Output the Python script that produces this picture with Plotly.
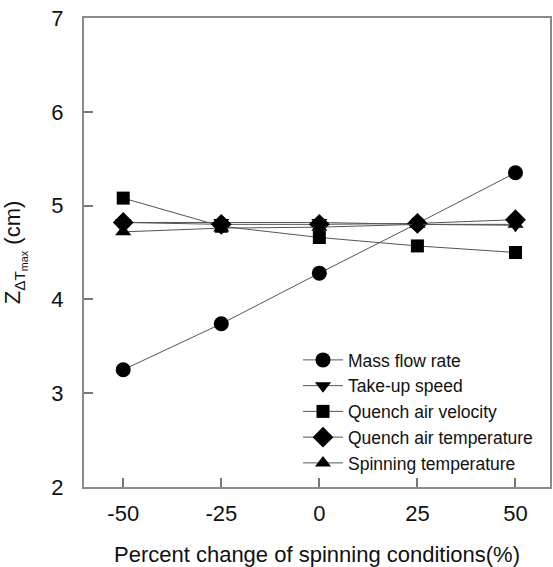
import plotly.graph_objects as go

x_vals = [-50, -25, 0, 25, 50]
mass_flow = [3.25, 3.74, 4.28, 4.81, 5.35]
take_up = [4.82, 4.82, 4.82, 4.80, 4.79]
quench_vel = [5.08, 4.78, 4.66, 4.57, 4.50]
quench_temp = [4.82, 4.80, 4.80, 4.81, 4.85]
spin_temp = [4.72, 4.76, 4.77, 4.80, 4.80]

series = [
    ("Mass flow rate", mass_flow, "circle", 15),
    ("Take-up speed", take_up, "triangle-down", 14),
    ("Quench air velocity", quench_vel, "square", 13),
    ("Quench air temperature", quench_temp, "diamond", 16),
    ("Spinning temperature", spin_temp, "triangle-up", 14),
]

FONT = "Liberation Sans, Arial, sans-serif"

fig = go.Figure()
for name, vals, sym, sz in series:
    fig.add_trace(go.Scatter(
        x=x_vals, y=vals, name=name, mode="lines+markers",
        line=dict(color="#555555", width=1),
        marker=dict(symbol=sym, size=sz, color="black", line=dict(width=0)),
    ))

W, H = 553, 567
L, R, T, B = 84, 3, 18, 80
fig.update_layout(
    width=W, height=H,
    margin=dict(l=L, r=R, t=T, b=B, autoexpand=False),
    plot_bgcolor="white", paper_bgcolor="white",
    font=dict(family=FONT, size=22, color="#111111"),
    showlegend=True,
    legend=dict(
        x=(298 - L) / (W - L - R), y=(H - B - 342) / (H - T - B),
        xanchor="left", yanchor="top",
        font=dict(size=17.5, color="#111111"),
        bgcolor="rgba(0,0,0,0)", itemwidth=40,
        tracegroupgap=0,
    ),
    xaxis=dict(
        range=[-60, 58.8], tickmode="array", tickvals=x_vals,
        ticktext=[str(v) for v in x_vals],
        ticks="inside", ticklen=9, tickcolor="#777777", tickwidth=1.5,
        showline=True, linecolor="#8a8a8a", linewidth=2, mirror=True,
        showgrid=False, zeroline=False,
        tickfont=dict(size=22), ticklabelstandoff=6,
        title=dict(text="Percent change of spinning conditions(%)",
                   font=dict(size=22), standoff=26),
        automargin=False,
    ),
    yaxis=dict(
        range=[2, 7], dtick=1, tick0=2,
        ticks="inside", ticklen=9, tickcolor="#777777", tickwidth=1.5,
        showline=True, linecolor="#8a8a8a", linewidth=2, mirror=True,
        showgrid=False, zeroline=False,
        tickfont=dict(size=22), ticklabelstandoff=14,
        title=dict(text="Z<sub>ΔT<sub>max</sub></sub> (cm)",
                   font=dict(size=22), standoff=27),
        automargin=False,
    ),
)

fig.write_html("out.html")
